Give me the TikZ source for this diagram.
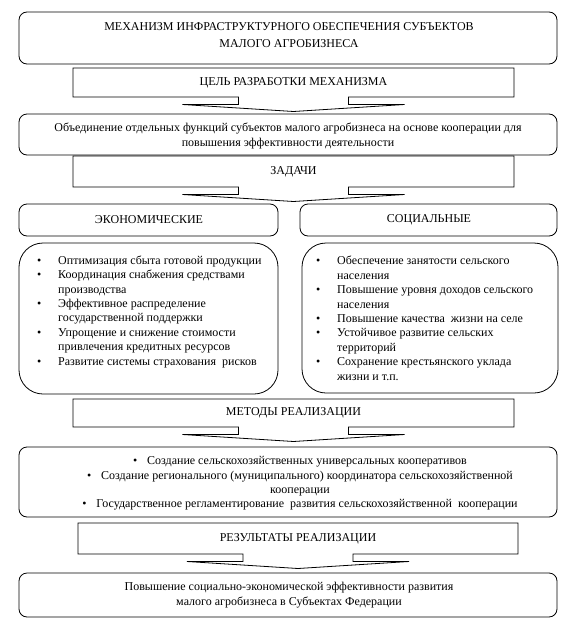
\documentclass[tikz,border=0pt]{standalone}
\usepackage{fontspec}
\setmainfont{Liberation Serif}
\newcommand\fsz{\fontsize{12}{14.4}\selectfont}
\tikzset{
  x=1pt, y=-1pt,
  rbox/.style={draw, line width=0.8pt, rounded corners=8pt, inner sep=0pt},
  lbox/.style={draw, line width=0.8pt, rounded corners=24pt, inner sep=0pt},
  txt/.style={font=\fsz, align=center, inner sep=0pt},
  ltxt/.style={font=\fsz, align=left, inner sep=0pt, anchor=base west},
  callline/.style={draw, line width=0.8pt, line join=miter},
}
% #1 left, #2 right, #3 top, #4 box bottom, #5 centre x of arrow, #6 name, #7 text
\newcommand\mycallout[7]{%
  \path[callline] (#1,#3) -- (#2,#3) -- (#2,#4) -- ({#5+55},#4) -- ({#5+55},{#4+7.5})
    -- ({#5+111},{#4+7.5}) -- (#5,{#4+14.5}) -- ({#5-111},{#4+7.5}) -- ({#5-55},{#4+7.5})
    -- ({#5-55},#4) -- (#1,#4) -- cycle;
  \node[txt] (#6) at ({(#1+#2)/2},{(#3+#4)/2}) {#7};
}
\newcommand\bul{\makebox[21pt][l]{•}}
\newcommand\nob{\hspace*{21pt}}
\newcommand\mbul{\makebox[14pt][l]{•}}
\begin{document}
\begin{tikzpicture}
\useasboundingbox (0,0) rectangle (572,624);
% title
\node[rbox, minimum width=538pt, minimum height=52pt] (titlebox) at (288,38) {};
\node[txt, font=\fontsize{12}{16.5}\selectfont] (title) at (289,35) {МЕХАНИЗМ ИНФРАСТРУКТУРНОГО ОБЕСПЕЧЕНИЯ СУБЪЕКТОВ\\МАЛОГО АГРОБИЗНЕСА};
% goal
\mycallout{73}{514}{68}{97}{293.5}{goal}{ЦЕЛЬ РАЗРАБОТКИ МЕХАНИЗМА}
\node[rbox, minimum width=538pt, minimum height=41pt] (unitebox) at (288,134.5) {};
\node[txt, font=\fontsize{12}{15}\selectfont] (unite) at (288,135.5) {Объединение отдельных функций субъектов малого агробизнеса на основе кооперации для\\повышения эффективности деятельности};
% tasks
\mycallout{73}{514}{156}{187}{293.5}{tasks}{ЗАДАЧИ}
\node[rbox, minimum width=259pt, minimum height=32pt] (econbox) at (148.5,220) {};
\node[txt] (econ) at (149,220) {ЭКОНОМИЧЕСКИЕ};
\node[rbox, minimum width=257pt, minimum height=32pt] (socbox) at (428.5,220) {};
\node[txt] (soc) at (429,220) {СОЦИАЛЬНЫЕ};
% lists
\node[lbox, minimum width=259pt, minimum height=151pt] (econlistbox) at (148.5,318.5) {};
\node[ltxt] (econlist) at (37,365) {\bul Оптимизация сбыта готовой продукции\\
\bul Координация снабжения средствами\\
\nob производства\\
\bul Эффективное распределение\\
\nob государственной поддержки\\
\bul Упрощение и снижение стоимости\\
\nob привлечения кредитных ресурсов\\
\bul Развитие системы страхования\ \ рисков};
\node[lbox, minimum width=256pt, minimum height=150pt] (soclistbox) at (430,318) {};
\node[ltxt] (soclist) at (316,380) {\bul Обеспечение занятости сельского\\
\nob населения\\
\bul Повышение уровня доходов сельского\\
\nob населения\\
\bul Повышение качества\ \ жизни на селе\\
\bul Устойчивое развитие сельских\\
\nob территорий\\
\bul Сохранение крестьянского уклада\\
\nob жизни и т.п.};
% methods
\mycallout{73}{514}{399}{427}{293.5}{methods}{МЕТОДЫ РЕАЛИЗАЦИИ}
\node[rbox, minimum width=538pt, minimum height=70pt] (methbox) at (288,482) {};
\node[txt] (meth) at (300,483.5) {\mbul Создание сельскохозяйственных универсальных кооперативов\\
\mbul Создание регионального (муниципального) координатора сельскохозяйственной\\
кооперации\\
\mbul Государственное регламентирование\ \ развития сельскохозяйственной\ \ кооперации};
% results
\mycallout{78}{518}{523}{554}{298}{results}{РЕЗУЛЬТАТЫ РЕАЛИЗАЦИИ}
\node[rbox, minimum width=538pt, minimum height=44pt] (finalbox) at (288,595) {};
\node[txt] (final) at (289,595) {Повышение социально-экономической эффективности развития\\малого агробизнеса в Субъектах Федерации};
\end{tikzpicture}
\end{document}
